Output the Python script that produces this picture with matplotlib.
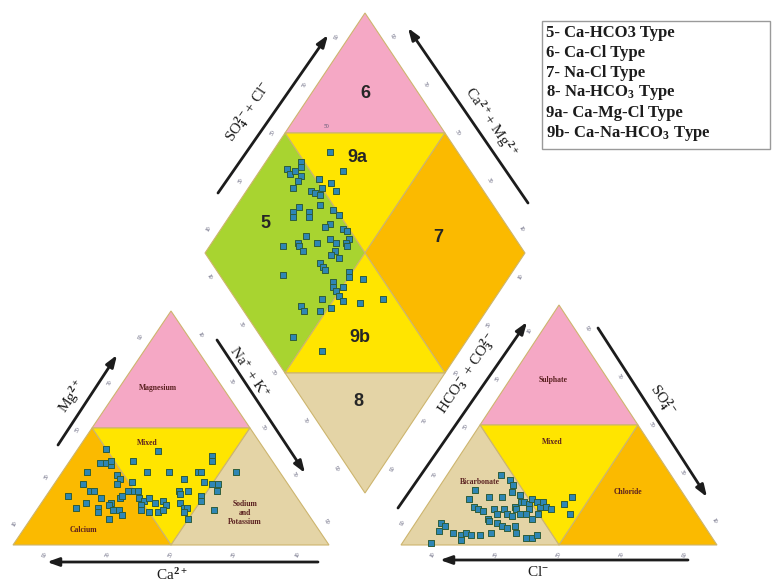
import matplotlib.pyplot as plt
from matplotlib.patches import Polygon, Rectangle

plt.rcParams['font.family'] = ['Liberation Serif', 'DejaVu Serif']
plt.rcParams['mathtext.fontset'] = 'custom'
plt.rcParams['mathtext.rm'] = 'Liberation Serif:bold'
plt.rcParams['mathtext.bf'] = 'Liberation Serif:bold'
plt.rcParams['mathtext.it'] = 'Liberation Serif:bold'
plt.rcParams['mathtext.default'] = 'bf'

# Cation triangle: Mg2+ and Na+ + K+ in % meq/L (Ca2+ is the rest)
cat_mg = [41, 35, 35, 34, 36, 31, 30, 28, 26, 36, 40, 31, 31, 38, 36, 31, 31, 28, 27, 26,
          26, 26, 23, 23, 21, 18, 16, 20, 18, 20, 21, 27, 23, 23, 23, 20, 19, 20, 18, 19,
          17, 16, 14, 17, 15, 15, 13, 17, 15, 14, 14, 15, 11, 23, 22, 23, 18, 16, 16, 14,
          11, 21, 19, 23, 15, 31]
cat_nak = [9, 10, 12, 14, 13, 8, 18, 20, 20, 20, 26, 27, 34, 44, 45, 43, 44, 40, 47, 50,
           52, 9, 13, 14, 7, 14, 12, 18, 22, 24, 24, 24, 26, 25, 28, 30, 32, 33, 36, 38,
           40, 19, 20, 22, 24, 26, 28, 32, 33, 36, 39, 40, 25, 41, 42, 44, 44, 46, 47, 47,
           50, 49, 50, 53, 56, 55]

# Anion triangle: SO4 2- and Cl- in % meq/L (HCO3- + CO3 2- is the rest)
an_so4 = [29, 27, 25, 23, 20, 20, 22, 21, 19, 16, 15, 14, 15, 13, 15, 13, 16, 15, 18, 18,
          17, 15, 13, 12, 13, 19, 18, 16, 18, 16, 15, 17, 20, 13, 11, 13, 11, 10, 9, 8,
          7, 8, 5, 3, 3, 4, 9, 8, 6, 5, 4, 5, 4, 4, 5, 2, 1]
an_cl = [17, 21, 23, 12, 18, 22, 24, 27, 12, 15, 17, 19, 22, 24, 25, 27, 28, 29, 29, 30,
         32, 33, 31, 29, 33, 32, 34, 36, 36, 38, 40, 43, 44, 47, 36, 37, 22, 23, 26, 28,
         30, 32, 34, 38, 40, 41, 8, 10, 9, 14, 17, 18, 20, 23, 26, 18, 9]

# Diamond: Na+ + K+ and SO4 2- + Cl- in %
dia_nak = [18, 26, 11, 12, 8, 10, 11, 14, 14, 20, 14, 20, 22, 23, 24, 25, 28, 19, 20, 20,
           24, 25, 26, 31, 34, 33, 32, 38, 40, 42, 27, 28, 23, 28, 33, 36, 39, 42, 43, 30,
           40, 40, 43, 38, 40, 41, 29, 49, 50, 46, 47, 49, 50, 55, 51, 46, 53, 59, 41, 43,
           48, 51, 65, 45, 57]
dia_clso4 = [60, 60, 49, 48, 43, 43, 45, 46, 44, 51, 41, 46, 47, 50, 48, 54, 54, 36, 35, 39,
             41, 40, 46, 49, 50, 45, 43, 48, 49, 48, 31, 31, 26, 35, 37, 42, 43, 46, 46, 31,
             41, 39, 41, 34, 34, 34, 20, 41, 40, 34, 33, 33, 36, 44, 33, 27, 33, 38, 19, 19,
             24, 28, 46, 10, 16]

legend_lines = ['5- Ca-HCO3 Type', '6- Ca-Cl Type', '7- Na-Cl Type',
                r'8- Na-HCO$_3$ Type', '9a- Ca-Mg-Cl Type', r'9b- Ca-Na-HCO$_3$ Type']

PINK = '#f5a8c5'
YELLOW = '#ffe500'
ORANGE = '#fbba00'
GREEN = '#a8d430'
TAN = '#e4d4a6'
EDGE = '#cdb56e'

# layout (drawing units = pixels)
TRI_W = 316
BASE_Y = 545
CAT_X0, CAT_H = 13, 234
AN_X0, AN_H = 401, 240
DIA_LEFT_X, DIA_LEFT_Y = 205, 253
DIA_HW, DIA_HH = 160, 240


def cat_xy(mg, nak):
    return CAT_X0 + TRI_W * (nak + mg / 2) / 100, BASE_Y - CAT_H * mg / 100


def an_xy(so4, cl):
    return AN_X0 + TRI_W * (cl + so4 / 2) / 100, BASE_Y - AN_H * so4 / 100


def dia_xy(nak, clso4):
    return (DIA_LEFT_X + DIA_HW * (nak + clso4) / 100,
            DIA_LEFT_Y + DIA_HH * (nak - clso4) / 100)


fig = plt.figure(figsize=(7.73, 5.82), dpi=100)
ax = fig.add_axes([0, 0, 1, 1])
ax.set_xlim(0, 773)
ax.set_ylim(582, 0)
ax.axis('off')


def region(func, verts, color):
    pts = [func(a, b) for a, b in verts]
    ax.add_patch(Polygon(pts, closed=True, facecolor=color, edgecolor=EDGE, lw=0.8, zorder=1))


# cation fields (mg, nak)
region(cat_xy, [(50, 0), (50, 50), (100, 0)], PINK)
region(cat_xy, [(50, 0), (50, 50), (0, 50)], YELLOW)
region(cat_xy, [(0, 0), (0, 50), (50, 0)], ORANGE)
region(cat_xy, [(0, 50), (0, 100), (50, 50)], TAN)

# anion fields (so4, cl)
region(an_xy, [(50, 0), (50, 50), (100, 0)], PINK)
region(an_xy, [(50, 0), (50, 50), (0, 50)], YELLOW)
region(an_xy, [(0, 0), (0, 50), (50, 0)], TAN)
region(an_xy, [(0, 50), (0, 100), (50, 50)], ORANGE)

# diamond fields (nak, clso4)
region(dia_xy, [(0, 100), (0, 50), (50, 100)], PINK)
region(dia_xy, [(0, 50), (50, 100), (50, 50)], YELLOW)
region(dia_xy, [(0, 0), (0, 50), (50, 50), (50, 0)], GREEN)
region(dia_xy, [(100, 100), (50, 100), (50, 50), (100, 50)], ORANGE)
region(dia_xy, [(50, 50), (50, 0), (100, 50)], YELLOW)
region(dia_xy, [(50, 0), (100, 50), (100, 0)], TAN)

# samples
pt_style = dict(marker='s', s=16, c='#2e86b5', edgecolors='#2f5e3c', linewidths=0.7, zorder=3)
cx, cy = zip(*[cat_xy(m, n) for m, n in zip(cat_mg, cat_nak)])
ax.scatter(cx, cy, **pt_style)
axx, ayy = zip(*[an_xy(s, c) for s, c in zip(an_so4, an_cl)])
ax.scatter(axx, ayy, **pt_style)
dx, dy = zip(*[dia_xy(n, c) for n, c in zip(dia_nak, dia_clso4)])
ax.scatter(dx, dy, **pt_style)

# tick labels
tick_vals = [10, 30, 50, 70, 90]
tk = dict(fontsize=4, color='#555570', ha='center', va='center', zorder=4)
for v in tick_vals:
    x, y = cat_xy(0, 100 - v)
    ax.text(x, y + 10, str(v), rotation=60, **tk)
    x, y = cat_xy(v, 0)
    ax.text(x - 14, y + 2, str(v), rotation=60, **tk)
    x, y = cat_xy(100 - v, v)
    ax.text(x + 13, y, str(v), rotation=-60, **tk)
    x, y = an_xy(0, v)
    ax.text(x, y + 10, str(v), rotation=60, **tk)
    x, y = an_xy(100 - v, 0)
    ax.text(x - 14, y + 2, str(v), rotation=60, **tk)
    x, y = an_xy(v, 100 - v)
    ax.text(x + 13, y, str(v), rotation=-60, **tk)
    x, y = dia_xy(0, v)
    ax.text(x - 12, y, str(v), rotation=60, **tk)
    x, y = dia_xy(100 - v, 100)
    ax.text(x + 12, y, str(v), rotation=-60, **tk)
    x, y = dia_xy(v, 0)
    ax.text(x - 12, y, str(v), rotation=-60, **tk)
    x, y = dia_xy(100, 100 - v)
    ax.text(x + 12, y, str(v), rotation=60, **tk)
ax.text(326, 127, '50', **tk)

# field numbers in the diamond
num = dict(fontsize=13, fontweight='bold', family='Liberation Sans', color='#262626',
           ha='center', va='center', zorder=4)
ax.text(365, 93, '6', **num)
ax.text(357, 157, '9a', **num)
ax.text(265, 223, '5', **num)
ax.text(438, 237, '7', **num)
ax.text(360, 337, '9b', **num)
ax.text(358, 402, '8', **num)

# field names in the triangles
fn = dict(fontsize=5.5, fontweight='bold', color='#5a2020', ha='center', va='center', zorder=4)
ax.text(158, 388, 'Magnesium', **fn)
ax.text(147, 443, 'Mixed', **fn)
ax.text(83, 530, 'Calcium', **fn)
ax.text(245, 513, 'Sodium\nand\nPotassium', linespacing=1.1, **fn)
ax.text(553, 380, 'Sulphate', **fn)
ax.text(552, 442, 'Mixed', **fn)
ax.text(480, 482, 'Bicarbonate', **fn)
ax.text(628, 492, 'Chloride', **fn)


def arrow(tail, head):
    ax.annotate('', xy=head, xytext=tail, zorder=4,
                arrowprops=dict(arrowstyle='-|>,head_length=0.7,head_width=0.25',
                                lw=2, color='#1c1c1c', shrinkA=0, shrinkB=0))


lab = dict(fontsize=11, color='#1c1c1c', ha='center', va='center', zorder=4)

arrow((218, 193), (328, 35))
ax.text(248, 112, r'SO$_4^{2-}$+ Cl$^{-}$', rotation=56, **lab)
arrow((528, 203), (408, 28))
ax.text(490, 122, r'Ca$^{2+}$+ Mg$^{2+}$', rotation=-56, **lab)

arrow((58, 445), (117, 355))
ax.text(72, 397, r'Mg$^{2+}$', rotation=56, **lab)
arrow((217, 340), (305, 473))
ax.text(248, 373, r'Na$^{+}$ + K$^{+}$', rotation=-56, **lab)
arrow((318, 562), (47, 562))
ax.text(172, 575, r'Ca$^{2+}$', **lab)

arrow((398, 508), (527, 322))
ax.text(467, 373, r'HCO$_3^-$ + CO$_3^{2-}$', rotation=56, **lab)
arrow((598, 328), (707, 497))
ax.text(663, 400, r'SO$_4^{2-}$', rotation=-56, **lab)
arrow((688, 560), (440, 560))
ax.text(538, 572, r'Cl$^{-}$', **lab)

# legend box
ax.add_patch(Rectangle((542, 21), 228, 128, facecolor='white', edgecolor='#9a9a9a',
                       lw=1, zorder=2))
for i, line in enumerate(legend_lines):
    ax.text(546, 33 + i * 20, line, fontsize=12, fontweight='bold', color='#1c1c1c',
            ha='left', va='center', zorder=4)

fig.savefig('out.png', dpi=100)
